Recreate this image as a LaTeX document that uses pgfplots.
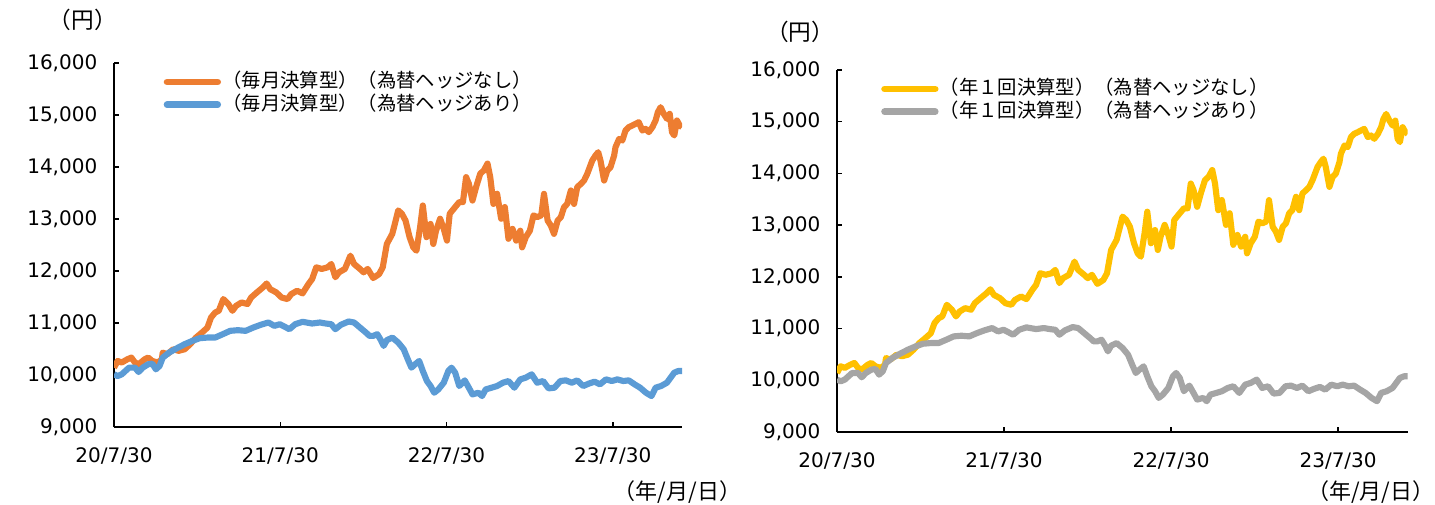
\documentclass[border=0pt]{standalone}
\usepackage{fontspec}
\usepackage{pgfplots}
\usepackage{pgfplotstable}
\pgfplotsset{compat=1.18}
\setmainfont{DejaVu Sans}
\newfontfamily\jp{Noto Sans CJK JP}
\definecolor{cOrange}{HTML}{ED7D31}
\definecolor{cBlue}{HTML}{5B9BD5}
\definecolor{cYellow}{HTML}{FFC000}
\definecolor{cGray}{HTML}{A5A5A5}

% days since 2020-07-30, price (yen)
\pgfplotstableread{
d v
0 10141
8 10270
17 10240
29 10300
38 10335
46 10240
54 10205
67 10300
75 10335
84 10270
96 10240
105 10300
107 10430
117 10400
130 10495
142 10465
155 10495
167 10590
180 10720
193 10815
205 10910
213 11105
222 11200
230 11235
240 11460
251 11365
260 11235
268 11330
280 11395
293 11365
301 11490
314 11590
327 11685
335 11760
343 11650
356 11590
368 11490
381 11460
389 11555
402 11620
414 11570
427 11750
435 11845
444 12070
456 12040
469 12070
477 12135
486 11880
494 11975
507 12040
519 12295
527 12135
540 12040
548 11975
557 12040
569 11865
582 11940
590 12070
599 12520
611 12715
624 13165
632 13100
640 12970
649 12650
657 12455
664 12390
672 12840
678 13260
686 12650
695 12905
701 12520
707 12775
716 13005
724 12810
731 12585
737 13100
749 13230
758 13325
766 13325
773 13805
779 13680
787 13355
795 13615
804 13870
812 13935
820 14065
826 13805
833 13290
841 13485
850 13005
858 13230
866 12620
875 12810
883 12585
892 12775
896 12455
904 12650
913 12775
921 13070
929 13035
938 13070
944 13484
952 12970
959 12875
966 12715
974 12970
981 13035
988 13227
995 13290
1003 13548
1010 13290
1017 13612
1025 13676
1032 13740
1039 13868
1050 14125
1057 14220
1063 14285
1068 14125
1076 13740
1083 13932
1090 13996
1098 14220
1101 14381
1109 14541
1116 14510
1123 14702
1130 14766
1138 14798
1145 14830
1152 14862
1160 14702
1167 14734
1174 14670
1182 14766
1189 14894
1194 15054
1200 15150
1207 15022
1214 14926
1220 15022
1225 14670
1230 14606
1236 14894
1242 14798
1247 14766
}\unhedged

\pgfplotstableread{
d v
0 10013
8 9980
17 10013
25 10077
33 10141
46 10141
54 10058
63 10141
75 10206
84 10219
92 10109
100 10174
107 10334
121 10431
138 10514
155 10592
172 10656
188 10707
205 10720
222 10720
239 10785
255 10849
272 10862
289 10849
306 10913
322 10965
339 11010
352 10945
364 10977
385 10881
398 10977
414 11023
435 10990
452 11010
465 10990
477 10977
486 10881
498 10965
515 11029
527 11010
540 10913
553 10817
561 10752
569 10752
578 10785
586 10669
592 10559
599 10669
611 10720
624 10624
636 10495
645 10302
653 10141
661 10206
670 10270
678 10077
687 9884
695 9788
703 9659
712 9723
724 9852
734 10077
741 10141
749 10045
758 9788
770 9897
779 9756
787 9627
800 9659
808 9595
816 9723
829 9756
841 9788
854 9852
866 9884
879 9756
892 9916
904 9949
917 10013
929 9852
942 9884
954 9743
967 9756
980 9884
992 9897
1005 9852
1017 9897
1030 9788
1042 9833
1055 9871
1067 9820
1080 9916
1093 9884
1105 9916
1118 9884
1130 9897
1143 9820
1155 9756
1168 9659
1180 9595
1189 9756
1201 9788
1214 9852
1222 9949
1230 10045
1239 10077
1247 10077
}\hedged

\pgfplotsset{
  mychart/.style={
    scale only axis,
    width=426pt, height=273pt,
    axis lines=left,
    axis line style={line width=1.1pt, -},
    xmin=0, xmax=1247, ymin=9000, ymax=16000,
    xtick={0,365,730,1095},
    xticklabels={20/7/30,21/7/30,22/7/30,23/7/30},
    ytick={9000,10000,11000,12000,13000,14000,15000,16000},
    scaled y ticks=false,
    /pgf/number format/1000 sep={,},
    /pgf/number format/assume math mode=true,
    tick align=inside,
    major tick length=4pt,
    tick style={line width=1.1pt, black},
    tick label style={font=\fontsize{15}{18}\selectfont},
    yticklabel style={xshift=-9pt},
    xticklabel style={yshift=-12pt},
    legend cell align=left,
    legend style={draw=none, fill=none, font=\jp\fontsize{14.5}{17}\selectfont,
      anchor=north west, row sep=1pt,
      nodes={inner sep=1pt, text height=11pt, text depth=3pt}},
    legend image code/.code={\draw[##1, line width=5pt, line cap=round] (0pt,0pt) -- (38pt,0pt);},
    every axis plot/.append style={line width=4.6pt, line join=round},
  }
}

\begin{document}
\begin{tikzpicture}
\path[use as bounding box] (0pt,0pt) rectangle (1076.25pt,378pt);

\begin{axis}[mychart, at={(85.5pt,57.75pt)}, anchor=south west,
  legend style={at={(0.08,0.985)}}]
\addplot[cOrange] table[x=d,y=v] {\unhedged};
\addlegendentry{（毎月決算型）（為替ヘッジなし）}
\addplot[cBlue] table[x=d,y=v] {\hedged};
\addlegendentry{（毎月決算型）（為替ヘッジあり）}
\end{axis}

\begin{axis}[mychart, width=428pt, height=271.5pt, at={(627.75pt,54pt)}, anchor=south west,
  legend style={at={(0.07,0.985)}}]
\addplot[cYellow] table[x=d,y=v] {\unhedged};
\addlegendentry{（年１回決算型）（為替ヘッジなし）}
\addplot[cGray] table[x=d,y=v] {\hedged};
\addlegendentry{（年１回決算型）（為替ヘッジあり）}
\end{axis}

\node[font=\jp\fontsize{17}{20}\selectfont] at (62pt,363pt) {（円）};
\node[font=\jp\fontsize{17}{20}\selectfont] at (600pt,354pt) {（円）};
\node[font=\jp\fontsize{16.5}{20}\selectfont, anchor=east, inner sep=0pt] at (556pt,9pt) {（年/月/日）};
\node[font=\jp\fontsize{16.5}{20}\selectfont, anchor=east, inner sep=0pt] at (1076pt,9pt) {（年/月/日）};
\end{tikzpicture}
\end{document}
